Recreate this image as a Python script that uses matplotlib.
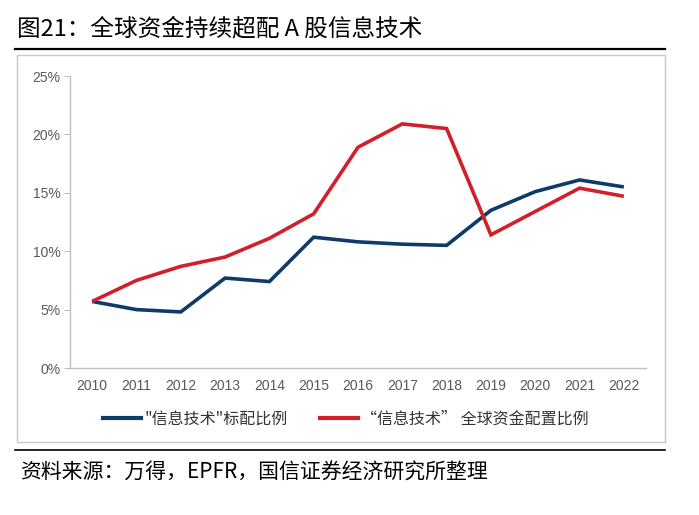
import matplotlib
matplotlib.use("Agg")
import matplotlib.pyplot as plt
from matplotlib.lines import Line2D
from matplotlib.patches import Rectangle
from matplotlib.ticker import FuncFormatter

plt.rcParams['font.family'] = ['Noto Sans CJK SC', 'DejaVu Sans']

years = ['2010', '2011', '2012', '2013', '2014', '2015', '2016',
         '2017', '2018', '2019', '2020', '2021', '2022']
benchmark = [5.7, 5.0, 4.8, 7.7, 7.4, 11.2, 10.8, 10.6, 10.5, 13.5, 15.1, 16.1, 15.5]
global_alloc = [5.7, 7.5, 8.7, 9.5, 11.1, 13.2, 18.9, 20.9, 20.5, 11.4, 13.4, 15.4, 14.7]
label_bench = '"信息技术"标配比例'
label_global = '“信息技术” 全球资金配置比例'
title = '图21：全球资金持续超配 A 股信息技术'
source = '资料来源：万得，EPFR，国信证券经济研究所整理'

W, H = 699, 515
fig = plt.figure(figsize=(W / 100, H / 100), dpi=100)

def fx(px):
    return px / W

def fy(py):
    return 1 - py / H

# title
fig.text(fx(17), fy(29), title, fontsize=17, color='black', va='center', ha='left')
# title rule
fig.add_artist(Line2D([fx(15), fx(665)], [fy(49), fy(49)], color='black', lw=1.6))
# chart frame
fig.add_artist(Rectangle((fx(17), fy(442)), fx(665) - fx(17), fy(55) - fy(442),
                         fill=False, edgecolor='#C8C8C8', lw=1.0))
# bottom rule
fig.add_artist(Line2D([fx(15), fx(665)], [fy(450), fy(450)], color='black', lw=1.2))
# source
fig.text(fx(20), fy(473), source, fontsize=15, color='black', va='center', ha='left')

ax = fig.add_axes([fx(70), fy(368), fx(646) - fx(70), fy(76) - fy(368)])
x = list(range(len(years)))
blue = '#0F3B68'
red = '#D21F2C'
ax.plot(x, benchmark, color=blue, lw=2.6, solid_capstyle='butt', solid_joinstyle='miter')
ax.plot(x, global_alloc, color=red, lw=2.6, solid_capstyle='butt', solid_joinstyle='miter')

ax.set_xlim(-0.5, 12.5)
ax.set_ylim(0, 25)
ax.set_yticks([0, 5, 10, 15, 20, 25])
ax.yaxis.set_major_formatter(FuncFormatter(lambda v, p: f'{int(v)}%'))
ax.set_xticks(x)
ax.set_xticklabels(years)
for s in ['top', 'right']:
    ax.spines[s].set_visible(False)
for s in ['left', 'bottom']:
    ax.spines[s].set_color('#BFBFBF')
    ax.spines[s].set_linewidth(1.0)
ax.tick_params(axis='y', length=4, color='#BFBFBF', labelsize=10, labelcolor='#595959', pad=3)
ax.tick_params(axis='x', length=0, labelsize=10, labelcolor='#595959', pad=8)
for lab in ax.get_xticklabels() + ax.get_yticklabels():
    lab.set_fontfamily(['Liberation Sans', 'DejaVu Sans'])

handles = [Line2D([], [], color=blue, lw=3), Line2D([], [], color=red, lw=3)]
leg = fig.legend(handles, [label_bench, label_global], loc='center',
                 bbox_to_anchor=(fx(346), fy(419)), ncol=2, frameon=False,
                 fontsize=11.5, handlelength=2.4, handletextpad=0.2,
                 columnspacing=2.0, labelcolor='#333333')

fig.savefig('out.png', dpi=100)
